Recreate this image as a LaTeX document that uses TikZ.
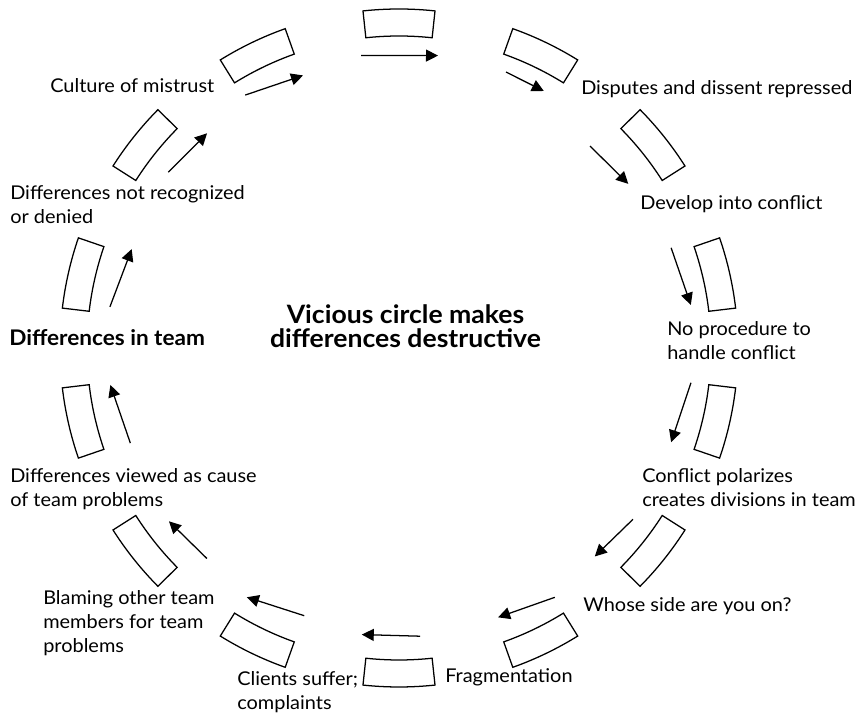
\documentclass[tikz,border=0pt]{standalone}
\usepackage{fontspec}
\setmainfont{Lato}[FakeStretch=1.05]
\usetikzlibrary{arrows.meta}

\begin{document}
\begin{tikzpicture}[x=0.025cm,y=0.025cm,
  seg/.style={line width=0.9pt},
  flow/.style={line width=0.9pt,-{Triangle[length=3mm,width=3mm]}},
  lbl/.style={anchor=base west,inner sep=0pt,align=left,font=\fontsize{13.5}{17.4}\selectfont},
  hub/.style={anchor=base,inner sep=0pt,align=center,font=\fontsize{18}{17.1}\selectfont\bfseries}]
\useasboundingbox (-399,-367) rectangle (459,348);
% boxes round the ring
\foreach \k in {0,...,13}{
  \pgfmathsetmacro\a{90-\k*360/14}
  \draw[seg] (\a+6.1:312) arc[start angle=\a+6.1,end angle=\a-6.1,radius=312]
    -- (\a-6.1:339) arc[start angle=\a-6.1,end angle=\a+6.1,radius=339] -- cycle;
}
% arrows inside the ring, clockwise
\foreach \i/\sa/\sr/\ea/\er in {1/97.4/295/82.4/295, 2/68.8/296/60.6/295,
    3/46.6/278/35.6/282, 4/20.2/290/8.4/295, 5/-6.8/294/-19.1/288,
    6/-36.2/290/-46.8/286, 7/-58/294/-69.8/287, 8/-85.8/289/-97.4/289,
    9/-109.5/284/-121.4/292, 10/-132.4/285/-143/288, 11/-160.5/285/-172.7/291,
    12/171.9/292/159.7/285, 13/142.7/290/131.8/288, 14/121.3/296/109.4/289}{
  \coordinate (s\i) at (\sa:\sr);
  \coordinate (e\i) at (\ea:\er);
  \draw[flow] (s\i) -- (e\i);
}
% labels (base = last line)
\node[hub] (hub) at (6.5,0) {Vicious circle makes\\differences destructive};
\node[lbl] (cult) at (-349,255) {Culture of mistrust};
\node[lbl] (disp) at (182,253) {Disputes and dissent repressed};
\node[lbl] (dev) at (241,138) {Develop into conflict};
\node[lbl] (noproc) at (268,-12) {No procedure to\\handle conflict};
\node[lbl] (polar) at (243,-159) {Conflict polarizes\\creates divisions in team};
\node[lbl] (whose) at (184,-264) {Whose side are you on?};
\node[lbl] (frag) at (46,-335) {Fragmentation};
\node[lbl] (client) at (-162,-362) {Clients suffer;\\complaints};
\node[lbl] (blame) at (-356,-305) {Blaming other team\\members for team\\problems};
\node[lbl] (viewed) at (-389,-159) {Differences viewed as cause\\of team problems};
\node[lbl,font=\fontsize{15.3}{17.4}\selectfont\bfseries] (inteam) at (-390,2) {Differences in team};
\node[lbl] (notrec) at (-389,124) {Differences not recognized\\or denied};
\end{tikzpicture}
\end{document}
